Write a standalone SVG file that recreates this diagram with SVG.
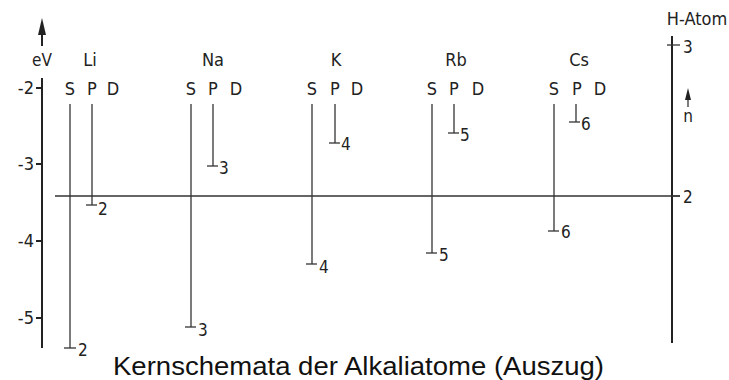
<svg xmlns="http://www.w3.org/2000/svg" width="729" height="380" viewBox="0 0 729 380">
<defs>
<style>
.lbl{font-family:"DejaVu Sans Condensed","DejaVu Sans",sans-serif;font-size:18px;fill:#222}
.sm{font-family:"DejaVu Sans Condensed","DejaVu Sans",sans-serif;font-size:17px;fill:#222}
.ttl{font-family:"Liberation Sans",Arial,sans-serif;font-size:25px;fill:#111}
.ax{stroke:#222;stroke-width:2;fill:none}
.lv{stroke:#333;stroke-width:1.3;fill:none}
.hz{stroke:#333;stroke-width:1.5;fill:none}
.hd{fill:#222;stroke:none}
</style>
</defs>
<rect width="729" height="380" fill="#fff"/>

<g id="axis">
<line class="ax" x1="42" y1="78" x2="42" y2="348"/>
<line class="ax" x1="42" y1="46" x2="42" y2="30"/>
<path class="hd" d="M42,18 L46,35 L38,35 Z"/>
<text class="sm" x="42" y="66" text-anchor="middle" font-size="14">eV</text>
<line class="ax" x1="36" y1="88" x2="42" y2="88" stroke-width="1.5"/>
<line class="ax" x1="36" y1="164" x2="42" y2="164" stroke-width="1.5"/>
<line class="ax" x1="36" y1="241" x2="42" y2="241" stroke-width="1.5"/>
<line class="ax" x1="36" y1="318" x2="42" y2="318" stroke-width="1.5"/>
<text class="lbl" x="34" y="94" text-anchor="end">-2</text>
<text class="lbl" x="34" y="170" text-anchor="end">-3</text>
<text class="lbl" x="34" y="247" text-anchor="end">-4</text>
<text class="lbl" x="34" y="324" text-anchor="end">-5</text>
</g>

<g id="connectors">
<line class="hz" x1="55" y1="196" x2="680" y2="196"/>
</g>

<g id="Li">
<text class="lbl" x="90" y="66" text-anchor="middle">Li</text>
<text class="lbl" x="70" y="95" text-anchor="middle">S</text>
<text class="lbl" x="92" y="95" text-anchor="middle">P</text>
<text class="lbl" x="113" y="95" text-anchor="middle">D</text>
<line class="lv" x1="70" y1="104" x2="70" y2="348"/>
<line class="lv" x1="64" y1="348" x2="76" y2="348"/>
<text class="sm" x="78" y="356">2</text>
<line class="lv" x1="92" y1="104" x2="92" y2="205"/>
<line class="lv" x1="86" y1="205" x2="97" y2="205"/>
<text class="sm" x="98" y="215">2</text>
</g>

<g id="Na">
<text class="lbl" x="213" y="66" text-anchor="middle">Na</text>
<text class="lbl" x="191" y="95" text-anchor="middle">S</text>
<text class="lbl" x="213" y="95" text-anchor="middle">P</text>
<text class="lbl" x="236" y="95" text-anchor="middle">D</text>
<line class="lv" x1="191" y1="104" x2="191" y2="327"/>
<line class="lv" x1="185" y1="327" x2="196" y2="327"/>
<text class="sm" x="198" y="336">3</text>
<line class="lv" x1="213" y1="104" x2="213" y2="166"/>
<line class="lv" x1="207" y1="166" x2="218" y2="166"/>
<text class="sm" x="219" y="174">3</text>
</g>

<g id="K">
<text class="lbl" x="336" y="66" text-anchor="middle">K</text>
<text class="lbl" x="312" y="95" text-anchor="middle">S</text>
<text class="lbl" x="335" y="95" text-anchor="middle">P</text>
<text class="lbl" x="357" y="95" text-anchor="middle">D</text>
<line class="lv" x1="312" y1="104" x2="312" y2="264"/>
<line class="lv" x1="306" y1="264" x2="317" y2="264"/>
<text class="sm" x="319" y="273">4</text>
<line class="lv" x1="335" y1="104" x2="335" y2="143"/>
<line class="lv" x1="329" y1="143" x2="340" y2="143"/>
<text class="sm" x="341" y="150">4</text>
</g>

<g id="Rb">
<text class="lbl" x="456" y="66" text-anchor="middle">Rb</text>
<text class="lbl" x="432" y="95" text-anchor="middle">S</text>
<text class="lbl" x="454" y="95" text-anchor="middle">P</text>
<text class="lbl" x="478" y="95" text-anchor="middle">D</text>
<line class="lv" x1="432" y1="104" x2="432" y2="253"/>
<line class="lv" x1="426" y1="253" x2="437" y2="253"/>
<text class="sm" x="439" y="261">5</text>
<line class="lv" x1="454" y1="104" x2="454" y2="133"/>
<line class="lv" x1="448" y1="133" x2="459" y2="133"/>
<text class="sm" x="460" y="141">5</text>
</g>

<g id="Cs">
<text class="lbl" x="579" y="66" text-anchor="middle">Cs</text>
<text class="lbl" x="554" y="95" text-anchor="middle">S</text>
<text class="lbl" x="577" y="95" text-anchor="middle">P</text>
<text class="lbl" x="600" y="95" text-anchor="middle">D</text>
<line class="lv" x1="554" y1="104" x2="554" y2="231"/>
<line class="lv" x1="548" y1="231" x2="559" y2="231"/>
<text class="sm" x="561" y="238">6</text>
<line class="lv" x1="576" y1="104" x2="576" y2="122"/>
<line class="lv" x1="569" y1="122" x2="580" y2="122"/>
<text class="sm" x="581" y="130">6</text>
</g>

<g id="H-Atom">
<text class="lbl" x="697" y="25" text-anchor="middle" font-size="17">H-Atom</text>
<line class="ax" x1="672" y1="36" x2="672" y2="343" stroke-width="1.5"/>
<line class="lv" x1="667" y1="45" x2="680" y2="45"/>
<text class="sm" x="683" y="53">3</text>
<line class="lv" x1="672" y1="196" x2="680" y2="196"/>
<text class="sm" x="683" y="203">2</text>
<line class="lv" x1="688" y1="107" x2="688" y2="96"/>
<path class="hd" d="M688,88 L691,100 L685,100 Z"/>
<text class="sm" x="688" y="122" text-anchor="middle" font-size="14">n</text>
</g>

<g id="title">
<text class="ttl" x="113" y="375" textLength="491" lengthAdjust="spacingAndGlyphs">Kernschemata der Alkaliatome (Auszug)</text>
</g>
</svg>
